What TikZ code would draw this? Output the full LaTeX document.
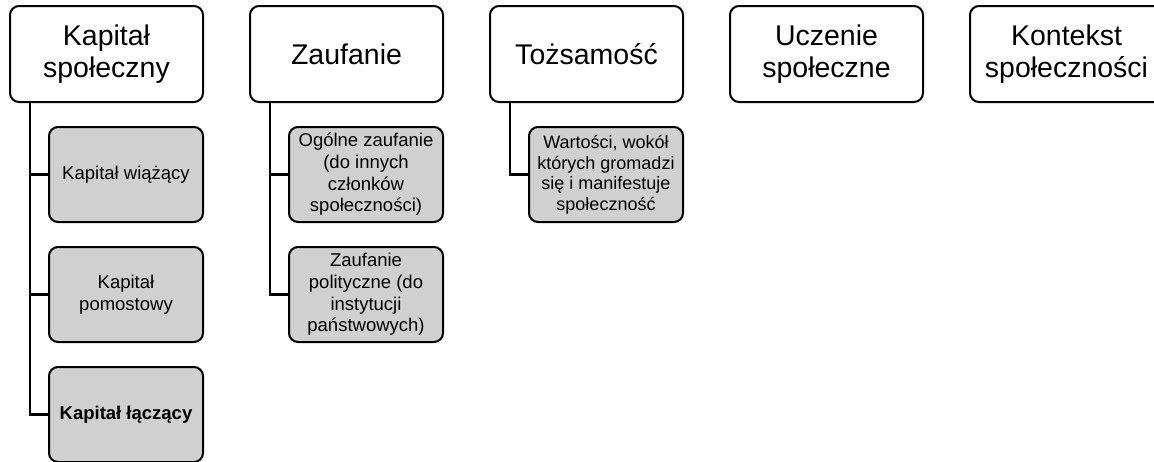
\documentclass[tikz,border=0pt]{standalone}
\usepackage{fontspec}
\setmainfont{Liberation Sans}
\definecolor{childfill}{RGB}{208,208,208}
\tikzset{
  topbox/.style={draw=black, line width=2pt, rounded corners=9pt, fill=white,
    minimum width=193pt, minimum height=96pt, align=center, inner sep=0pt,
    font=\fontsize{28.5}{32}\selectfont},
  childbox/.style={draw=black, line width=2pt, rounded corners=9pt, fill=childfill,
    minimum width=154pt, minimum height=95pt, align=center, inner sep=0pt,
    font=\fontsize{18.5}{21.7}\selectfont},
  link/.style={draw=black, line width=2.5pt}
}
\begin{document}
\begin{tikzpicture}[x=1pt,y=-1pt]
\clip (0,0) rectangle (1154,461);
\fill[white] (0,0) rectangle (1154,461);
% top boxes
\node[topbox] (t1) at (106.5,54) {Kapitał\\społeczny};
\node[topbox] (t2) at (346.5,54) {Zaufanie};
\node[topbox] (t3) at (586.5,54) {Tożsamość};
\node[topbox] (t4) at (826.5,54) {Uczenie\\społeczne};
\node[topbox] (t5) at (1066.5,54) {Kontekst\\społeczności};
% column 1
\node[childbox] (a1) at (126,174.5) {Kapitał wiążący};
\node[childbox] (a2) at (126,294.5) {Kapitał\\pomostowy};
\node[childbox] (a3) at (126,414.5) {\textbf{Kapitał łączący}};
% column 2
\node[childbox] (b1) at (366,174.5) {Ogólne zaufanie\\(do innych\\członków\\społeczności)};
\node[childbox] (b2) at (366,294.5) {Zaufanie\\polityczne (do\\instytucji\\państwowych)};
% column 3
\node[childbox, font=\fontsize{18}{20.5}\selectfont] (c1) at (606,174.5) {Wartości, wokół\\których gromadzi\\się i manifestuje\\społeczność};
% trunk coordinates
\coordinate (ax) at (30,0);
\coordinate (bx) at (270,0);
\coordinate (cx) at (510,0);
% connectors
\draw[link] (t1.south -| ax) |- (a3.west);
\draw[link] (ax |- a1.west) -- (a1.west);
\draw[link] (ax |- a2.west) -- (a2.west);
\draw[link] (t2.south -| bx) |- (b2.west);
\draw[link] (bx |- b1.west) -- (b1.west);
\draw[link] (t3.south -| cx) |- (c1.west);
\end{tikzpicture}
\end{document}
